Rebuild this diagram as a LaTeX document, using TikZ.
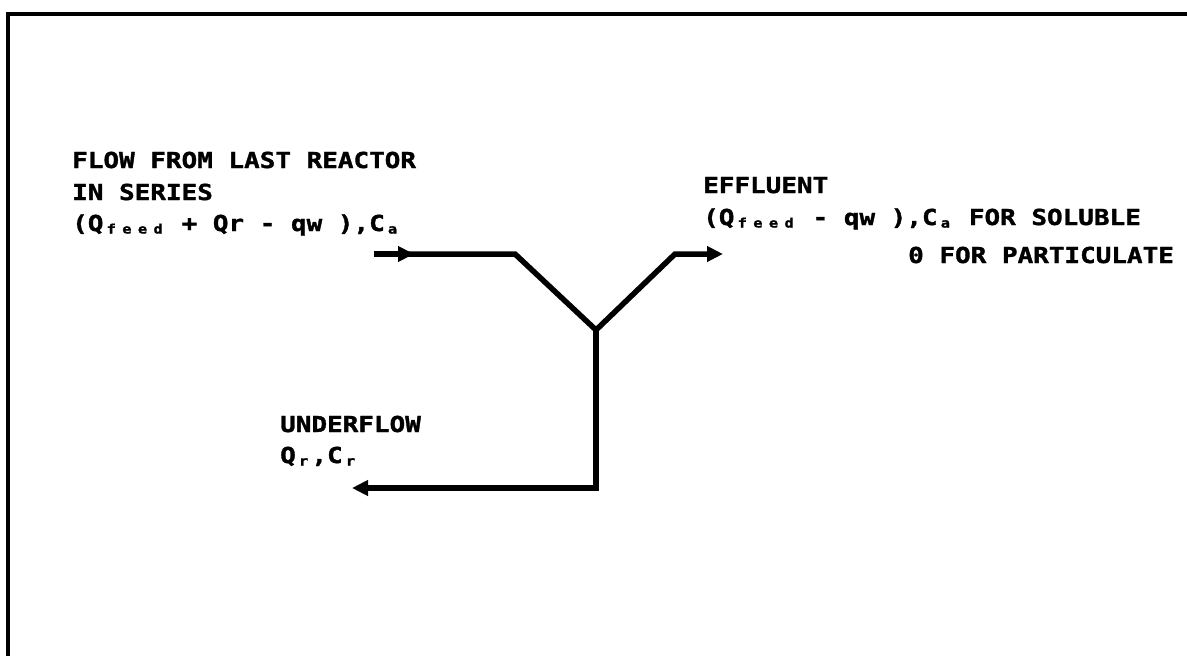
\documentclass[tikz,border=0pt]{standalone}
\usepackage{fontspec}
\newfontfamily\plotfont[FakeStretch=1.18,FakeBold=1.5]{DejaVu Sans Mono Bold}
\usetikzlibrary{arrows.meta}
\newcommand\lowc[1]{\setbox0\hbox{0}\makebox[\wd0]{\raisebox{-2.5pt}{\fontsize{13}{13}\selectfont #1}}}
\newcommand\lows[1]{\lowcloop#1\relax}
\def\lowcloop#1{\ifx#1\relax\else\lowc{#1}\expandafter\lowcloop\fi}
\begin{document}
\begin{tikzpicture}[x=1pt,y=-1pt,
  flow/.style={line width=5.5pt, line join=miter},
  tip/.style={-{Triangle[length=16pt,width=15pt]}},
  frame/.style={line width=3.5pt},
  lbl/.style={anchor=base west, inner sep=0pt, font=\plotfont\fontsize{22}{22}\selectfont}]
\useasboundingbox (0,0) rectangle (1187,656);
% frame (only top and left edges visible)
\coordinate (fbl) at (8,656);
\coordinate (ftl) at (8,14);
\coordinate (ftr) at (1187,14);
\draw[frame] (fbl) -- (ftl) -- (ftr);
% flow lines
\coordinate (in) at (374,254);
\coordinate (inmid) at (414,254);
\coordinate (k1) at (515,254);
\coordinate (apex) at (596,330);
\coordinate (k2) at (675,254);
\coordinate (out) at (723,254);
\coordinate (bend) at (596,488);
\coordinate (under) at (352,488);
\draw[flow,tip] (in) -- (inmid);
\draw[flow,tip] ([xshift=-8pt]inmid) -- (k1) -- (apex) -- (k2) -- (out);
\draw[flow,tip] (apex) -- (bend) -- (under);
% labels
\node[lbl] (f1) at (72,168) {FLOW FROM LAST REACTOR};
\node[lbl] (f2) at (72,200) {IN SERIES};
\node[lbl] (f3) at (72,231) {(Q\lows{feed} + Qr - qw ),C\lowc{a}};
\node[lbl] (e1) at (703,193) {EFFLUENT};
\node[lbl] (e2) at (703,225) {(Q\lows{feed} - qw ),C\lowc{a} FOR SOLUBLE};
\node[lbl] (e3) at (908,263) {0 FOR PARTICULATE};
\node[lbl] (u1) at (280,432) {UNDERFLOW};
\node[lbl] (u2) at (280,463) {Q\lowc{r},C\lowc{r}};
\end{tikzpicture}
\end{document}
